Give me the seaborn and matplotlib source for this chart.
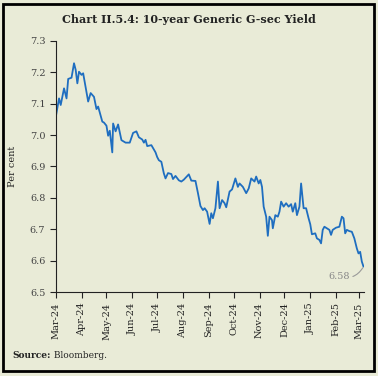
import numpy as np
import pandas as pd
import matplotlib
matplotlib.use("Agg")
import matplotlib.pyplot as plt
import matplotlib.dates as mdates
from matplotlib.patches import Rectangle
import seaborn as sns

# %% data
dates = [
    "2024-03-01", "2024-03-05", "2024-03-07", "2024-03-11", "2024-03-14", "2024-03-16",
    "2024-03-20", "2024-03-23", "2024-03-25", "2024-03-27", "2024-03-29", "2024-04-01",
    "2024-04-03", "2024-04-09", "2024-04-12", "2024-04-16", "2024-04-19", "2024-04-21",
    "2024-04-26", "2024-04-28", "2024-05-01", "2024-05-03", "2024-05-05", "2024-05-08",
    "2024-05-09", "2024-05-12", "2024-05-15", "2024-05-19", "2024-05-24", "2024-05-29",
    "2024-06-02", "2024-06-06", "2024-06-09", "2024-06-13", "2024-06-15", "2024-06-17",
    "2024-06-19", "2024-06-24", "2024-06-29", "2024-07-01", "2024-07-03", "2024-07-06",
    "2024-07-09", "2024-07-11", "2024-07-14", "2024-07-18", "2024-07-20", "2024-07-23",
    "2024-07-27", "2024-07-30", "2024-08-02", "2024-08-08", "2024-08-11", "2024-08-16",
    "2024-08-19", "2024-08-22", "2024-08-25", "2024-08-27", "2024-08-30", "2024-09-02",
    "2024-09-04", "2024-09-06", "2024-09-09", "2024-09-12", "2024-09-14", "2024-09-17",
    "2024-09-20", "2024-09-22", "2024-09-26", "2024-09-29", "2024-10-03", "2024-10-06",
    "2024-10-08", "2024-10-12", "2024-10-16", "2024-10-19", "2024-10-22", "2024-10-26",
    "2024-10-28", "2024-10-31", "2024-11-02", "2024-11-04", "2024-11-06", "2024-11-09",
    "2024-11-11", "2024-11-13", "2024-11-16", "2024-11-17", "2024-11-20", "2024-11-23",
    "2024-11-25", "2024-11-27", "2024-11-30", "2024-12-03", "2024-12-06", "2024-12-09",
    "2024-12-11", "2024-12-14", "2024-12-16", "2024-12-19", "2024-12-21", "2024-12-24",
    "2024-12-27", "2024-12-30", "2025-01-01", "2025-01-03", "2025-01-07", "2025-01-09",
    "2025-01-12", "2025-01-14", "2025-01-16", "2025-01-18", "2025-01-21", "2025-01-24",
    "2025-01-26", "2025-01-28", "2025-02-01", "2025-02-05", "2025-02-08", "2025-02-10",
    "2025-02-12", "2025-02-14", "2025-02-17", "2025-02-20", "2025-02-23", "2025-02-26",
    "2025-02-28", "2025-03-02", "2025-03-04", "2025-03-06",
]
yields = [
    7.057, 7.117, 7.096, 7.149, 7.117, 7.179,
    7.183, 7.229, 7.208, 7.165, 7.202, 7.192,
    7.197, 7.107, 7.134, 7.122, 7.083, 7.091,
    7.043, 7.040, 7.030, 6.998, 7.014, 6.945,
    7.037, 7.012, 7.034, 6.984, 6.976, 6.976,
    7.007, 7.012, 6.993, 6.986, 6.976, 6.985,
    6.965, 6.968, 6.945, 6.930, 6.920, 6.915,
    6.878, 6.862, 6.879, 6.876, 6.860, 6.870,
    6.856, 6.852, 6.858, 6.875, 6.855, 6.854,
    6.815, 6.774, 6.761, 6.767, 6.756, 6.717,
    6.751, 6.735, 6.767, 6.852, 6.767, 6.793,
    6.783, 6.770, 6.820, 6.827, 6.862, 6.835,
    6.846, 6.835, 6.815, 6.830, 6.862, 6.852,
    6.868, 6.846, 6.857, 6.835, 6.772, 6.740,
    6.679, 6.740, 6.729, 6.703, 6.745, 6.740,
    6.756, 6.788, 6.772, 6.783, 6.772, 6.780,
    6.756, 6.783, 6.745, 6.772, 6.846, 6.767,
    6.767, 6.735, 6.716, 6.684, 6.687, 6.671,
    6.666, 6.655, 6.698, 6.708, 6.703, 6.698,
    6.682, 6.698, 6.705, 6.708, 6.740, 6.735,
    6.687, 6.698, 6.694, 6.692, 6.671, 6.639,
    6.623, 6.628, 6.597, 6.581,
]
last_label = "6.58"

df = pd.DataFrame({"date": pd.to_datetime(dates), "yield": yields})

# %% style
bg = "#E9EBD7"
sns.set_style("ticks")
plt.rcParams["font.family"] = ["DejaVu Serif"]

fig = plt.figure(figsize=(3.78, 3.76), dpi=100, facecolor=bg)
ax = fig.add_axes([0.1474, 0.2234, 0.8164, 0.6676])
ax.set_facecolor(bg)

sns.lineplot(data=df, x="date", y="yield", ax=ax, color="#1F6EC0", linewidth=1.3)

ax.set_ylim(6.5, 7.3)
ax.set_yticks(np.arange(6.5, 7.31, 0.1))
ax.yaxis.set_major_formatter(matplotlib.ticker.FormatStrFormatter("%.1f"))
ax.set_xlim(pd.Timestamp("2024-03-01"), pd.Timestamp("2025-03-07"))
ax.xaxis.set_major_locator(mdates.MonthLocator())
ax.xaxis.set_major_formatter(mdates.DateFormatter("%b-%y"))
ax.tick_params(axis="x", rotation=90, labelsize=7, length=4, width=0.8, colors="#222222")
ax.tick_params(axis="y", labelsize=7, length=4, width=0.8, colors="#222222")
for lab in ax.get_yticklabels():
    lab.set_color("#444444")
ax.set_xlabel("")
ax.set_ylabel("Per cent", fontsize=7, color="#222222")
ax.yaxis.set_label_coords(-0.125, 0.5)
sns.despine(ax=ax)
for s in ["left", "bottom"]:
    ax.spines[s].set_linewidth(0.8)
    ax.spines[s].set_color("#222222")

# end value label
last = df.iloc[-1]
ax.annotate(last_label, xy=(last["date"], last["yield"]),
            xytext=(-10, -7), textcoords="offset points", ha="right", va="center",
            fontsize=7, color="#888888",
            arrowprops=dict(arrowstyle="-", color="#999999", lw=0.8,
                            connectionstyle="arc3,rad=0.4", shrinkA=0, shrinkB=1))

# title, source, frame
fig.text(0.5, 0.949, "Chart II.5.4: 10-year Generic G-sec Yield", ha="center", va="center",
         fontsize=8, fontweight="bold", color="#222222")
src = fig.text(0.034, 0.054, "Source:", ha="left", va="center", fontsize=6.5,
               fontweight="bold", color="#222222")
fig.add_artist(matplotlib.text.Annotation(" Bloomberg.", xy=(1.0, 0.5), xycoords=src,
                                          ha="left", va="center", fontsize=6.5,
                                          color="#222222"))
fig.patches.append(Rectangle((0.009, 0.013), 0.98, 0.976, transform=fig.transFigure,
                             fill=False, edgecolor="black", linewidth=2))

fig.savefig("out.png", dpi=100, facecolor=bg)
